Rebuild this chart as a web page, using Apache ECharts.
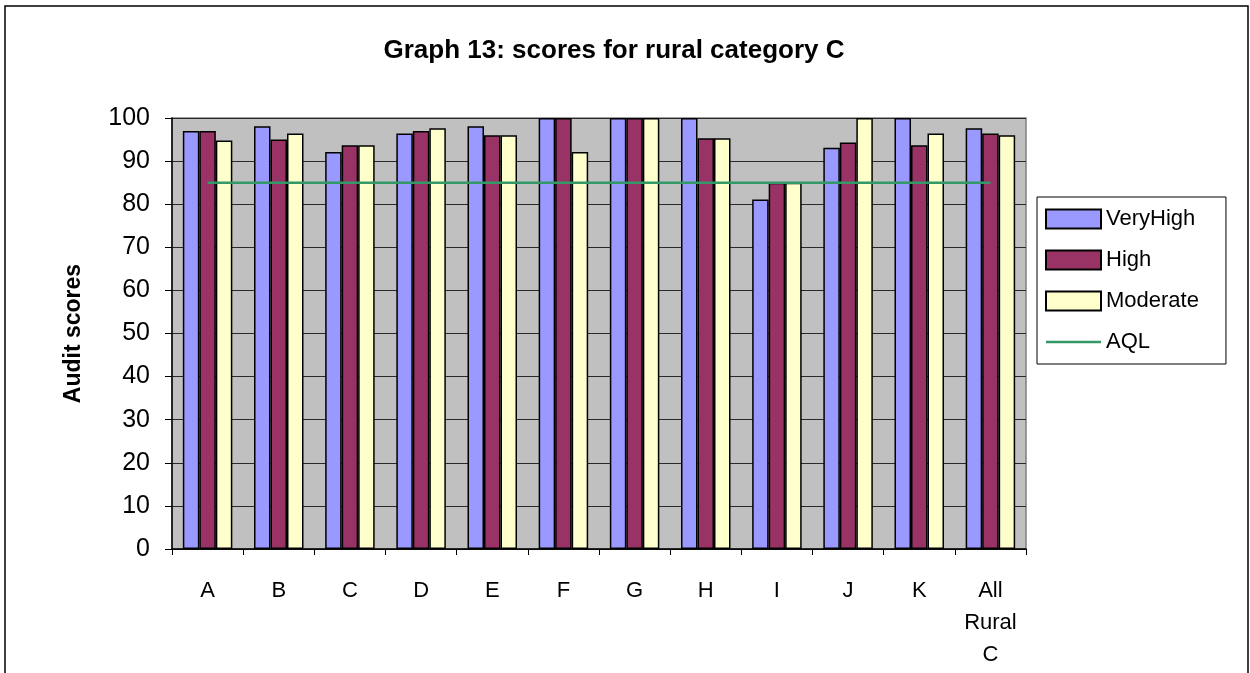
<!DOCTYPE html>
<html>
<head>
<meta charset="utf-8">
<script src="https://cdn.jsdelivr.net/npm/echarts@6/dist/echarts.min.js"></script>
<style>
  html, body { margin: 0; padding: 0; background: #fff; }
  #chart { width: 1250px; height: 673px; }
</style>
</head>
<body>
<div id="chart"></div>
<script>
const categories = ['A', 'B', 'C', 'D', 'E', 'F', 'G', 'H', 'I', 'J', 'K', 'All Rural C']
const veryHigh = [97, 98.1, 92.1, 96.4, 98.1, 100, 100, 100, 81.1, 93.1, 100, 97.6]
const high = [97, 95, 93.7, 97, 96, 100, 100, 95.3, 85, 94.3, 93.7, 96.4]
const moderate = [94.8, 96.4, 93.7, 97.6, 96, 92.1, 100, 95.3, 85, 100, 96.4, 96]
const aql = [85, 85, 85, 85, 85, 85, 85, 85, 85, 85, 85, 85]
const yTicks = [0, 10, 20, 30, 40, 50, 60, 70, 80, 90, 100]

const font = 'Liberation Sans, Arial, sans-serif'

const barStyle = (color) => ({
  color: color,
  borderColor: '#000',
  borderWidth: 1.5,
})

const option = {
  animation: false,
  textStyle: { fontFamily: font },
  title: {
    text: 'Graph 13: scores for rural category C',
    left: 609,
    top: 33,
    textAlign: 'center',
    textStyle: { fontSize: 26, fontWeight: 'bold', color: '#000', fontFamily: font },
  },
  graphic: [
    {
      type: 'rect',
      shape: { x: 5, y: 6, width: 1243, height: 720 },
      style: { fill: 'none', stroke: '#000', lineWidth: 1.5 },
      silent: true,
    },
  ],
  legend: {
    orient: 'vertical',
    left: 1037,
    top: 197,
    padding: [11, 27, 11, 8],
    itemGap: 19,
    itemWidth: 55,
    itemHeight: 19,
    borderColor: '#000',
    borderWidth: 1,
    textStyle: { fontSize: 22, color: '#000', fontFamily: font },
    data: [
      { name: 'VeryHigh', icon: 'rect' },
      { name: 'High', icon: 'rect' },
      { name: 'Moderate', icon: 'rect' },
      {
        name: 'AQL',
        icon: 'path://M0,0 L55,0 L55,2.4 L0,2.4 Z',
        itemStyle: { color: '#339966', borderWidth: 0 },
      },
    ],
  },
  grid: {
    left: 172,
    right: 224,
    top: 118,
    bottom: 124,
    show: true,
    backgroundColor: '#C0C0C0',
    borderColor: '#808080',
    borderWidth: 1.5,
  },
  xAxis: {
    type: 'category',
    data: categories,
    boundaryGap: true,
    axisLine: { show: true, lineStyle: { color: '#000', width: 1.5 } },
    axisTick: { show: true, length: 6, lineStyle: { color: '#000' } },
    axisLabel: {
      fontSize: 22,
      color: '#000',
      margin: 26,
      lineHeight: 32,
      interval: 0,
      formatter: (v) => v.split(' ').join('\n'),
    },
  },
  yAxis: {
    type: 'value',
    min: yTicks[0],
    max: yTicks[yTicks.length - 1],
    interval: 10,
    name: 'Audit scores',
    nameLocation: 'middle',
    nameGap: 87,
    nameRotate: 90,
    nameTextStyle: { fontSize: 23, fontWeight: 'bold', color: '#000', fontFamily: font },
    axisLine: { show: true, lineStyle: { color: '#000', width: 1.5 } },
    axisTick: { show: true, length: 7, inside: false, lineStyle: { color: '#000' } },
    axisLabel: { fontSize: 25, color: '#000', margin: 22 },
    splitLine: { show: true, lineStyle: { color: '#2a2a2a', width: 1.2 } },
  },
  series: [
    {
      name: 'VeryHigh',
      type: 'bar',
      data: veryHigh,
      barWidth: 16.5,
      barGap: '0%',
      itemStyle: barStyle('#9999FF'),
    },
    {
      name: 'High',
      type: 'bar',
      data: high,
      barWidth: 16.5,
      barGap: '0%',
      itemStyle: barStyle('#993366'),
    },
    {
      name: 'Moderate',
      type: 'bar',
      data: moderate,
      barWidth: 16.5,
      barGap: '0%',
      itemStyle: barStyle('#FFFFCC'),
    },
    {
      name: 'AQL',
      type: 'line',
      data: aql,
      symbol: 'none',
      z: 5,
      lineStyle: { color: '#339966', width: 2.5 },
      itemStyle: { color: '#339966' },
    },
  ],
}

const myChart = echarts.init(document.getElementById('chart'))
myChart.setOption(option)
</script>
</body>
</html>
